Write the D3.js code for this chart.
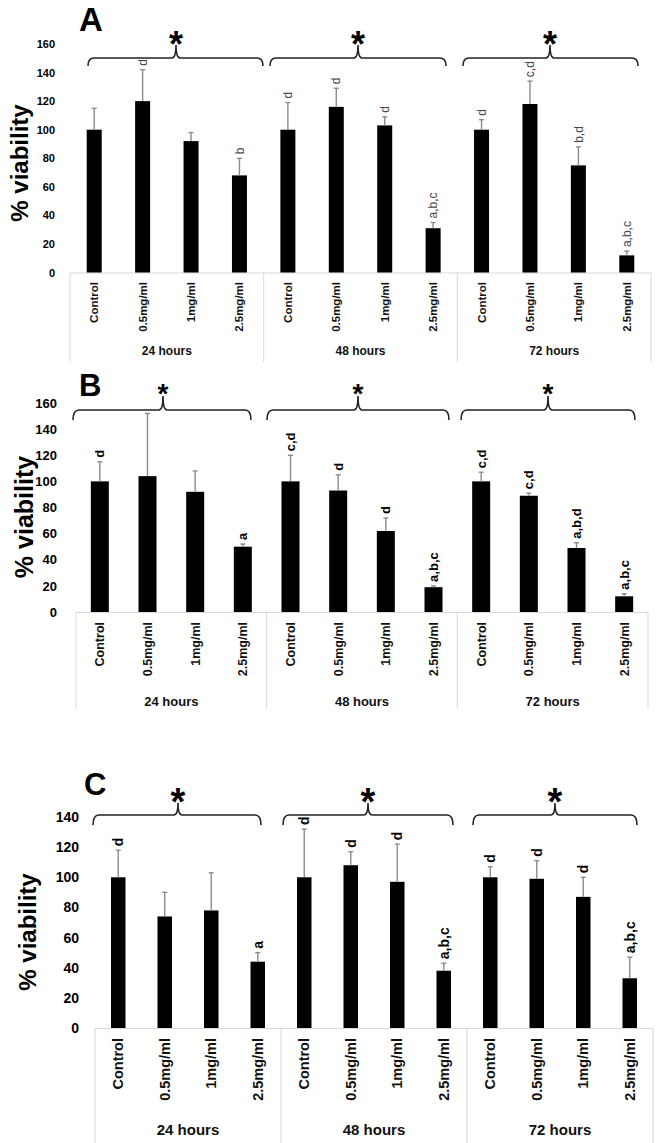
<!DOCTYPE html>
<html><head><meta charset="utf-8">
<script src="https://cdn.jsdelivr.net/npm/d3@7/dist/d3.min.js"></script>
<style>
html,body{margin:0;padding:0;background:#fff;}
svg{display:block;font-family:"Liberation Sans",Arial,sans-serif;}
</style></head>
<body>
<svg id="chart" width="658" height="1143"></svg>
<script>
// ---------- data ----------
const categories = ["Control", "0.5mg/ml", "1mg/ml", "2.5mg/ml"];
const groups = ["24 hours", "48 hours", "72 hours"];

const meansA = [100, 120, 92, 68, 100, 116, 103, 31, 100, 118, 75, 12];
const errsA = [15, 22, 6, 12, 19, 13, 6, 4, 7, 16, 13, 3];
const lettersA = ["", "d", "", "b", "d", "d", "d", "a,b,c", "d", "c,d", "b,d", "a,b,c"];

const meansB = [100, 104, 92, 50, 100, 93, 62, 19, 100, 89, 49, 12];
const errsB = [15, 48, 16, 2, 20, 12, 10, 1, 7, 2, 4, 2];
const lettersB = ["d", "", "", "a", "c,d", "d", "d", "a,b,c", "c,d", "c,d", "a,b,d", "a,b,c"];

const meansC = [100, 74, 78, 44, 100, 108, 97, 38, 100, 99, 87, 33];
const errsC = [18, 16, 25, 6, 32, 9, 25, 5, 7, 12, 13, 14];
const lettersC = ["d", "", "", "a", "d", "d", "d", "a,b,c", "d", "d", "d", "a,b,c"];

const ticksA = [0, 20, 40, 60, 80, 100, 120, 140, 160];
const ticksB = [0, 20, 40, 60, 80, 100, 120, 140, 160];
const ticksC = [0, 20, 40, 60, 80, 100, 120, 140];

const panelNames = ["A", "B", "C"];
const braceMark = "*";
const yTitle = "% viability";

// ---------- layout ----------
const layouts = [
  { x0: 70, x1: 651, zeroY: 272.5, topY: 44, barW: 15, tickX: 55, tickFont: 11,
    titleX: 79, titleY: 31, titleFont: 33, yTitleX: 20, yTitleY: 163, yTitleFont: 24,
    labelTop: 282, labelFont: 11.5, groupY: 351, groupFont: 12, boxBottom: 362,
    letterFont: 12, letterWeight: "normal", letterColor: "#444",
    braceY: 58, braceH: 8, braceTip: 13, starY: 57, starFont: 36,
    braces: [[88, 263, 176], [270, 446, 358], [463, 638, 550]] },
  { x0: 76, x1: 648, zeroY: 612, topY: 403, barW: 18, tickX: 57, tickFont: 13,
    titleX: 79, titleY: 396, titleFont: 31, yTitleX: 24, yTitleY: 517, yTitleFont: 25,
    labelTop: 622, labelFont: 12.5, groupY: 701, groupFont: 13, boxBottom: 709,
    letterFont: 13, letterWeight: "bold", letterColor: "#000",
    braceY: 410, braceH: 10, braceTip: 14, starY: 403, starFont: 28,
    braces: [[73, 251, 163], [267, 449, 358], [461, 635, 548]] },
  { x0: 95, x1: 653, zeroY: 1028, topY: 817, barW: 14.5, tickX: 79, tickFont: 14,
    titleX: 84, titleY: 795, titleFont: 31, yTitleX: 28, yTitleY: 932, yTitleFont: 24,
    labelTop: 1038, labelFont: 14.5, groupY: 1130, groupFont: 15, boxBottom: 1143,
    letterFont: 14, letterWeight: "bold", letterColor: "#000",
    braceY: 815, braceH: 10, braceTip: 12, starY: 815, starFont: 38,
    braces: [[93, 261, 178], [283, 453, 368], [473, 637, 555]] }
];

const panelData = [
  { means: meansA, errs: errsA, letters: lettersA, ticks: ticksA },
  { means: meansB, errs: errsB, letters: lettersB, ticks: ticksB },
  { means: meansC, errs: errsC, letters: lettersC, ticks: ticksC }
];

const svg = d3.select("#chart");

panelData.forEach((pd, pi) => {
  const L = layouts[pi];
  const g = svg.append("g");
  const rows = [];
  groups.forEach((gr, gi) => categories.forEach((c, ci) => {
    const i = gi * categories.length + ci;
    rows.push({ key: gr + "|" + c, group: gr, cat: c, mean: pd.means[i], err: pd.errs[i], letter: pd.letters[i] });
  }));

  const x = d3.scaleBand().domain(rows.map(d => d.key)).range([L.x0, L.x1]).padding(0);
  const y = d3.scaleLinear().domain([0, d3.max(pd.ticks)]).range([L.zeroY, L.topY]);
  const cx = d => x(d.key) + x.bandwidth() / 2;

  // y axis tick labels
  const yAxis = d3.axisLeft(y).tickValues(pd.ticks).tickSize(0).tickPadding(0).tickFormat(d3.format("d"));
  const ya = g.append("g").attr("transform", `translate(${L.tickX},0)`).call(yAxis);
  ya.select(".domain").remove();
  ya.selectAll("text").attr("font-size", L.tickFont).attr("font-weight", "bold")
    .attr("fill", "#000").attr("font-family", "'Liberation Sans',Arial,sans-serif");

  // y title
  g.append("text").attr("transform", `translate(${L.yTitleX},${L.yTitleY}) rotate(-90)`)
    .attr("text-anchor", "middle").attr("dy", "0.35em")
    .attr("font-size", L.yTitleFont).attr("font-weight", "bold").text(yTitle);

  // panel letter
  g.append("text").attr("x", L.titleX).attr("y", L.titleY)
    .attr("font-size", L.titleFont).attr("font-weight", "bold").text(panelNames[pi]);

  // category box lines
  g.append("line").attr("x1", L.x0).attr("x2", L.x1).attr("y1", L.zeroY + 0.5).attr("y2", L.zeroY + 0.5)
    .attr("stroke", "#d9d9d9").attr("stroke-width", 1);
  const bounds = groups.map((gr, gi) => x(rows[gi * categories.length].key)).concat([L.x1]);
  g.selectAll(".div").data(bounds).join("line")
    .attr("x1", d => d).attr("x2", d => d).attr("y1", L.zeroY).attr("y2", L.boxBottom)
    .attr("stroke", "#d9d9d9").attr("stroke-width", 1);

  // bars
  g.selectAll(".bar").data(rows).join("rect")
    .attr("x", d => cx(d) - L.barW / 2).attr("width", L.barW)
    .attr("y", d => y(d.mean)).attr("height", d => y(0) - y(d.mean))
    .attr("fill", "#000");

  // error bars
  const eb = g.selectAll(".eb").data(rows).join("g");
  eb.append("line").attr("x1", cx).attr("x2", cx)
    .attr("y1", d => y(d.mean)).attr("y2", d => y(d.mean + d.err))
    .attr("stroke", "#8c8c8c").attr("stroke-width", 1.4);
  eb.append("line").attr("x1", d => cx(d) - 2.5).attr("x2", d => cx(d) + 2.5)
    .attr("y1", d => y(d.mean + d.err)).attr("y2", d => y(d.mean + d.err))
    .attr("stroke", "#8c8c8c").attr("stroke-width", 1.4);

  // significance letters
  g.selectAll(".sig").data(rows.filter(d => d.letter)).join("text")
    .attr("transform", d => `translate(${cx(d)},${y(d.mean + d.err) - 4}) rotate(-90)`)
    .attr("text-anchor", "start").attr("dy", "0.35em")
    .attr("font-size", L.letterFont).attr("font-weight", L.letterWeight)
    .attr("fill", L.letterColor).text(d => d.letter);

  // category labels
  g.selectAll(".cl").data(rows).join("text")
    .attr("transform", d => `translate(${cx(d)},${L.labelTop}) rotate(-90)`)
    .attr("text-anchor", "end").attr("dy", "0.35em")
    .attr("font-size", L.labelFont).attr("font-weight", "bold").attr("fill", "#111")
    .text(d => d.cat);

  // group labels
  g.selectAll(".gl").data(groups).join("text")
    .attr("x", (d, gi) => (bounds[gi] + bounds[gi + 1]) / 2).attr("y", L.groupY)
    .attr("dy", "0.35em").attr("text-anchor", "middle")
    .attr("font-size", L.groupFont).attr("font-weight", "bold").attr("fill", "#111")
    .text(d => d);

  // braces
  L.braces.forEach(([a, b, c]) => {
    const yb = L.braceY, h = L.braceH, t = L.braceTip, r = 6;
    const p = d3.path();
    p.moveTo(a, yb + h);
    p.quadraticCurveTo(a, yb, a + r, yb);
    p.lineTo(c - 4, yb);
    p.quadraticCurveTo(c, yb, c, yb - t);
    p.quadraticCurveTo(c, yb, c + 4, yb);
    p.lineTo(b - r, yb);
    p.quadraticCurveTo(b, yb, b, yb + h);
    g.append("path").attr("d", p.toString()).attr("fill", "none")
      .attr("stroke", "#222").attr("stroke-width", 1.6);
    g.append("text").attr("x", c).attr("y", L.starY).attr("text-anchor", "middle")
      .attr("font-size", L.starFont).attr("font-weight", "bold").text(braceMark);
  });
});
</script>
</body></html>
